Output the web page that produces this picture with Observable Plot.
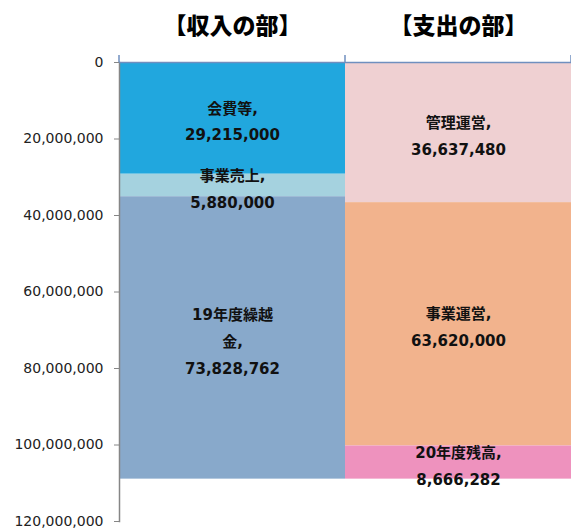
<!DOCTYPE html>
<html><head><meta charset="utf-8">
<script src="https://cdn.jsdelivr.net/npm/d3@7"></script>
<script src="https://cdn.jsdelivr.net/npm/@observablehq/plot@0.6"></script>
<style>body{margin:0;background:#fff}svg{display:block}</style>
</head><body><div id="chart"></div>
<script>
const sides = ["【収入の部】", "【支出の部】"];
const incomeItems = ["会費等", "事業売上", "19年度繰越\n金"];
const incomeValues = [29215000, 5880000, 73828762];
const expenseItems = ["管理運営", "事業運営", "20年度残高"];
const expenseValues = [36637480, 63620000, 8666282];
const incomeColors = ["#21a7de", "#a5d2df", "#88a9cb"];
const expenseColors = ["#efd0d2", "#f2b38d", "#ee92be"];
const yTicks = [0, 20000000, 40000000, 60000000, 80000000, 100000000, 120000000];

const fmt = d3.format(",");
const rows = [
  ...incomeItems.map((n, i) => ({side: sides[0], item: n, value: incomeValues[i], color: incomeColors[i]})),
  ...expenseItems.map((n, i) => ({side: sides[1], item: n, value: expenseValues[i], color: expenseColors[i]}))
];
rows.forEach(d => d.label = d.item + ",\n" + fmt(d.value));

const boundaryTicks = (index, scales, values, dim) => {
  const g = d3.create("svg:g");
  const y0 = scales.y(0);
  const bw = scales.x.bandwidth();
  const xs = sides.map(s => scales.x(s));
  xs.push(scales.x(sides[sides.length - 1]) + bw);
  xs.forEach(x => g.append("line").attr("x1", x).attr("x2", x).attr("y1", y0 - 7).attr("y2", y0)
    .attr("stroke", "#6f8fbf").attr("stroke-width", 1.5));
  return g.node();
};

const chart = Plot.plot({
  width: 571, height: 532,
  marginLeft: 119, marginRight: 0, marginTop: 62, marginBottom: 11,
  style: {fontFamily: "'DejaVu Sans', 'Noto Sans CJK JP', sans-serif", background: "#fff"},
  x: {domain: sides, padding: 0, label: null},
  y: {domain: [0, 120000000], reverse: true, label: null},
  marks: [
    Plot.barY(rows, Plot.stackY({x: "side", y: "value", fill: "color", order: null})),
    Plot.text(rows, Plot.stackY({x: "side", y: "value", text: "label", order: null,
      fontSize: 15, fontWeight: "bold", fill: "#111", lineHeight: 1.8})),
    Plot.frame({anchor: "left", stroke: "#868686", strokeWidth: 1.5}),
    Plot.ruleY([0], {stroke: "#6f8fbf", strokeWidth: 1.5}),
    boundaryTicks,
    Plot.axisY({ticks: yTicks, tickFormat: fmt, tickSize: 5, tickPadding: 11, fontSize: 14,
      stroke: "#868686", fill: "#222", label: null}),
    Plot.axisX({anchor: "top", tickSize: 0, tickPadding: 29, fontSize: 23, fontWeight: 900,
      fill: "#000", label: null, fontFamily: "'Noto Sans CJK JP', sans-serif"})
  ]
});
document.getElementById("chart").append(chart);
</script>
</body></html>
